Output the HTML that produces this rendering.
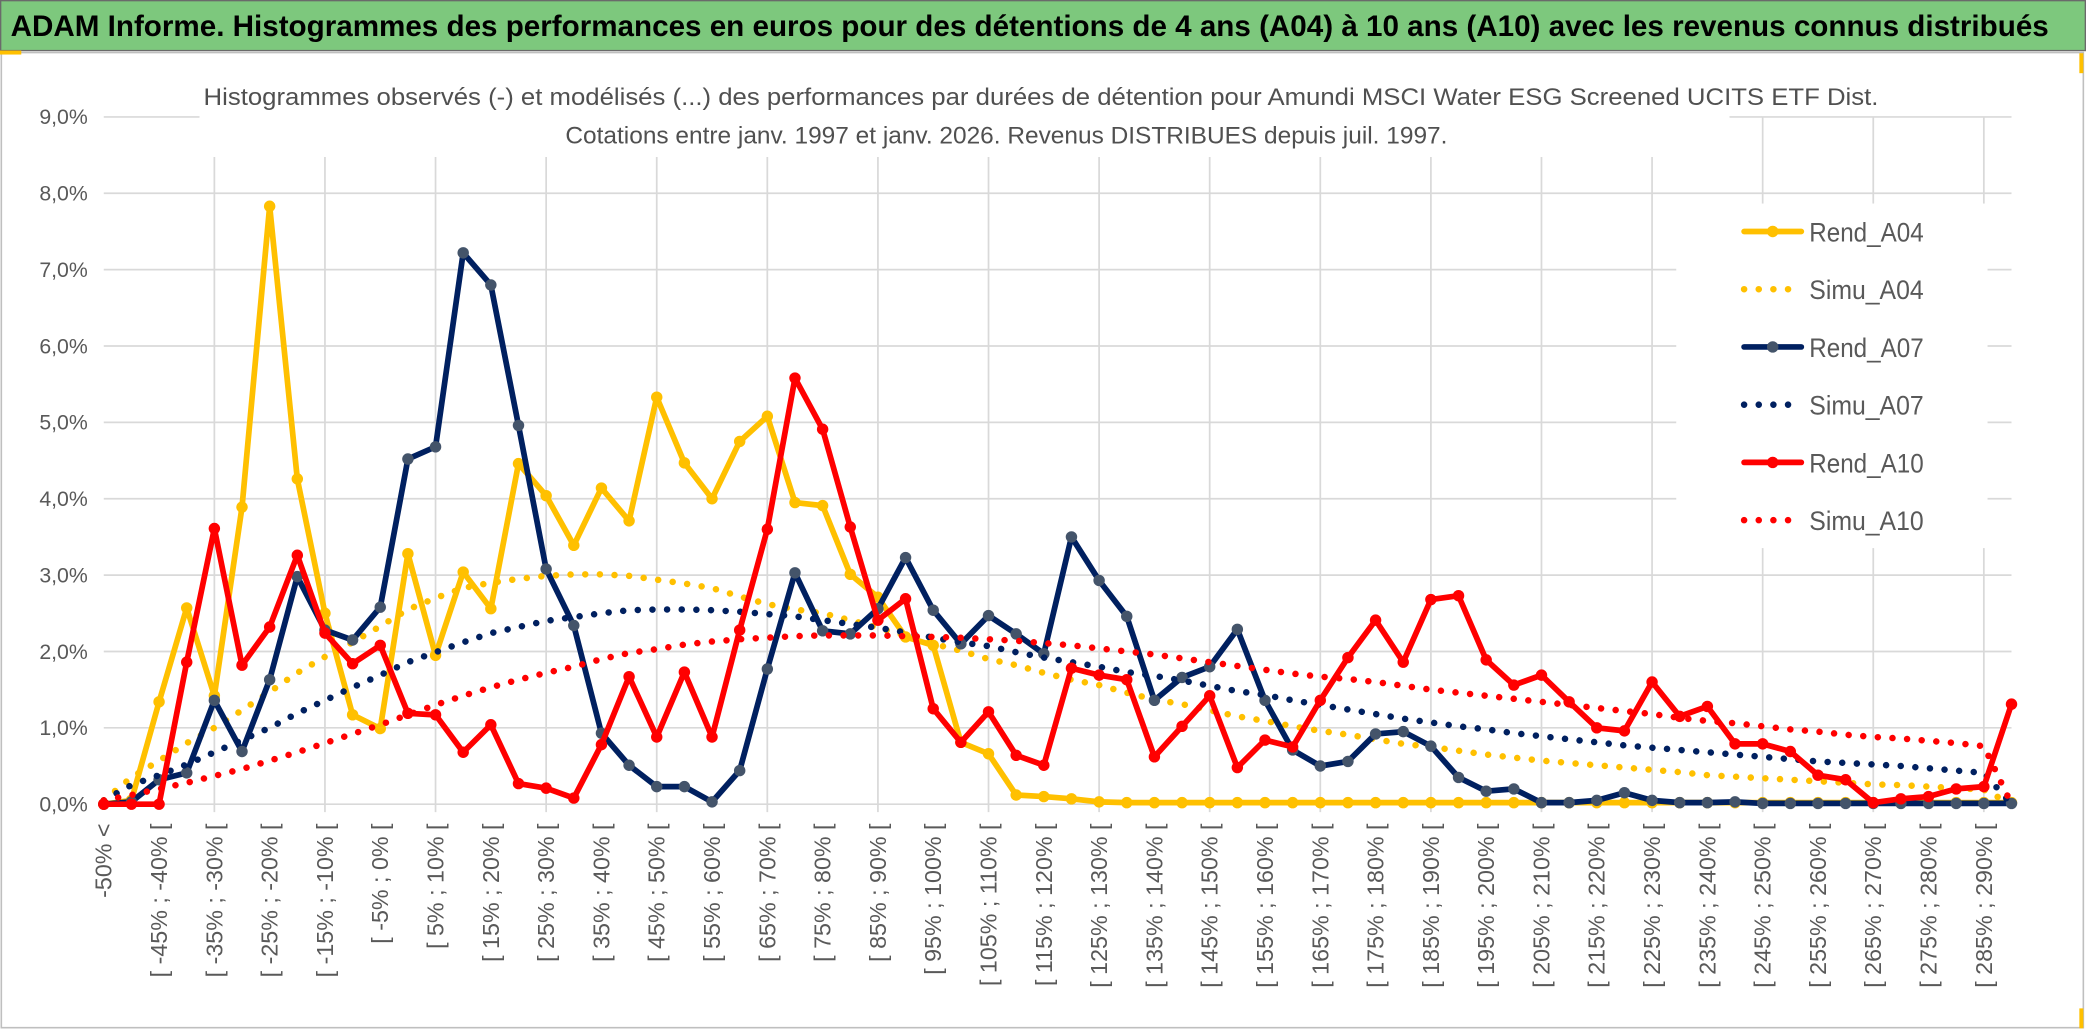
<!DOCTYPE html>
<html><head><meta charset="utf-8">
<style>
html,body{margin:0;padding:0;background:#fff;}
svg{display:block;}
text{font-family:"Liberation Sans",sans-serif;}
</style></head>
<body>
<svg id="chart" xmlns="http://www.w3.org/2000/svg" width="2086" height="1031" viewBox="0 0 1568 775" preserveAspectRatio="none">
  <rect x="0" y="0" width="1568" height="775" fill="#fff"/>
  <rect x="0.5" y="0.5" width="1567" height="37.5" fill="#7DC87D" stroke="#6a6a6a" stroke-width="1"/>
  <text x="8" y="27" font-size="22" font-weight="bold" fill="#000" textLength="1532" lengthAdjust="spacingAndGlyphs">ADAM Informe. Histogrammes des performances en euros pour des détentions de 4 ans (A04) à 10 ans (A10) avec les revenus connus distribués</text>
  <rect x="1" y="39.5" width="1565" height="733" fill="none" stroke="#bfbfbf" stroke-width="1.2"/>
  <rect x="0" y="38" width="16" height="3" fill="#FFC000"/>
  <rect x="1563" y="40" width="3" height="15" fill="#FFC000"/>
  <rect x="1563" y="758" width="3" height="15" fill="#FFC000"/>
  <g id="grid"></g>
  <rect x="150" y="55" width="1150" height="62" fill="#fff"/>
  <text x="153" y="79" font-size="18" fill="#505050" textLength="1259" lengthAdjust="spacingAndGlyphs">Histogrammes observés (-) et modélisés (...) des performances par durées de détention pour Amundi MSCI Water ESG Screened UCITS ETF Dist.</text>
  <text x="425" y="108" font-size="18" fill="#505050" textLength="663" lengthAdjust="spacingAndGlyphs">Cotations entre janv. 1997 et janv. 2026. Revenus DISTRIBUES depuis juil. 1997.</text>
  <g id="yaxis"></g>
  <g id="xaxis"></g>
  <g id="series"></g>
  <g id="legend"></g>
</svg>
<script>
const rendA04 = [0,0.05,1.34,2.57,1.42,3.89,7.83,4.26,2.5,1.17,0.99,3.28,1.95,3.04,2.56,4.46,4.04,3.39,4.14,3.71,5.33,4.47,4.0,4.75,5.08,3.95,3.91,3.01,2.71,2.19,2.08,0.81,0.66,0.12,0.1,0.07,0.03,
0.02,0.02,0.02,0.02,0.02,0.02,0.02,0.02,0.02,0.02,0.02,0.02,0.02,0.02,0.02,0.02,0.02,0.02,0.02,0.02,0.02,0.02,0.02,0.02,0.02,0.02,0.02,0.02,0.02,0.02,0.02,0.02,0.02];
const simuA04 = [0.05,0.35,0.57,0.8,1.0,1.23,1.47,1.72,1.93,2.12,2.33,2.55,2.7,2.83,2.9,2.95,2.99,3.01,3.01,2.99,2.94,2.89,2.83,2.72,2.62,2.55,2.5,2.41,2.31,2.21,2.1,2.01,1.9,1.82,1.72,1.63,1.56,1.46,1.37,1.31,1.23,1.15,1.09,1.02,0.96,0.91,0.85,0.79,0.75,0.7,0.65,0.61,0.57,0.54,0.51,0.48,0.45,0.42,0.38,0.36,0.34,0.32,0.3,0.28,0.26,0.25,0.23,0.21,0.19,0];
const rendA07 = [0,0.03,0.32,0.41,1.36,0.69,1.63,2.98,2.28,2.15,2.58,4.52,4.68,7.22,6.8,4.96,3.08,2.34,0.93,0.51,0.23,0.23,0.03,0.44,1.77,3.03,2.27,2.23,2.56,3.23,2.54,2.1,2.47,2.23,1.97,3.5,2.93,2.46,1.36,1.66,1.8,2.29,1.36,0.71,0.5,0.56,0.92,0.95,0.76,0.35,0.17,0.2,0.02,0.02,0.05,0.15,0.05,0.02,0.02,0.03,0.01,0.01,0.01,0.01,0.01,0.01,0.01,0.01,0.01,0.01];
const simuA07 = [0.05,0.25,0.38,0.52,0.68,0.84,1.0,1.19,1.36,1.53,1.69,1.86,1.99,2.12,2.24,2.32,2.4,2.45,2.5,2.54,2.55,2.55,2.54,2.52,2.49,2.46,2.41,2.36,2.31,2.25,2.18,2.12,2.07,1.99,1.92,1.86,1.8,1.73,1.68,1.62,1.55,1.48,1.43,1.36,1.3,1.24,1.18,1.12,1.07,1.02,0.98,0.93,0.89,0.85,0.81,0.77,0.74,0.71,0.68,0.65,0.62,0.59,0.56,0.54,0.52,0.5,0.47,0.44,0.41,0];
const rendA10 = [0,0,0,1.86,3.61,1.82,2.32,3.26,2.24,1.84,2.08,1.19,1.17,0.68,1.04,0.27,0.21,0.08,0.78,1.67,0.88,1.73,0.88,2.28,3.6,5.58,4.91,3.63,2.41,2.69,1.25,0.81,1.21,0.64,0.51,1.78,1.69,1.63,0.62,1.02,1.42,0.48,0.84,0.75,1.36,1.92,2.41,1.86,2.68,2.73,1.89,1.56,1.69,1.34,1.0,0.96,1.6,1.15,1.28,0.79,0.79,0.69,0.38,0.32,0.02,0.07,0.1,0.2,0.23,1.31];
const simuA10 = [0.05,0.12,0.2,0.28,0.37,0.46,0.57,0.68,0.8,0.92,1.04,1.17,1.3,1.42,1.53,1.63,1.72,1.8,1.9,1.98,2.03,2.09,2.13,2.16,2.18,2.2,2.21,2.21,2.21,2.2,2.19,2.18,2.16,2.14,2.11,2.08,2.04,2.0,1.96,1.91,1.86,1.81,1.76,1.71,1.67,1.64,1.6,1.55,1.5,1.46,1.42,1.38,1.34,1.3,1.26,1.22,1.18,1.13,1.09,1.06,1.02,0.98,0.95,0.91,0.88,0.86,0.83,0.8,0.76,0];
const yTicks = [0,1,2,3,4,5,6,7,8,9];
const yTickLabels = ["0,0%","1,0%","2,0%","3,0%","4,0%","5,0%","6,0%","7,0%","8,0%","9,0%"];
const seriesNames = ["Rend_A04","Simu_A04","Rend_A07","Simu_A07","Rend_A10","Simu_A10"];

function catLabel(k){
  if(k===0) return "-50% <";
  const lo=-50+5*(k-1), hi=lo+5;
  return "[ "+lo+"% ; "+hi+"% [";
}
const categories = [];
for(let k=0;k<70;k++) categories.push(catLabel(k));

const NS="http://www.w3.org/2000/svg";
const X0=78, X1=1512, Y0=604.5, PER=57.4;
function xPos(i){ return X0 + i*(X1-X0)/(categories.length-1); }
function yPos(v){ return Y0 - v*PER; }
function mk(tag, attrs, parent){
  const e=document.createElementNS(NS,tag);
  for(const a in attrs) e.setAttribute(a, attrs[a]);
  parent.appendChild(e); return e;
}

const grid=document.getElementById('grid');
yTicks.forEach(function(t){
  const y=yPos(t);
  if(t===9){
    const g1=mk('line',{x1:X0,x2:150,y1:y,y2:y,stroke:'#d9d9d9','stroke-width':1.3},grid);
    
    
    const g2=mk('line',{x1:1300,x2:X1,y1:y,y2:y,stroke:'#d9d9d9','stroke-width':1.3},grid);
    
    
  } else {
    const g=mk('line',{x1:X0,x2:X1,y1:y,y2:y,stroke:'#d9d9d9','stroke-width':1.3},grid);
    
    
  }
});
for(let k=4;k<categories.length;k+=4){
  const x=xPos(k);
  const top = x>1300 ? yPos(9) : 118;
  const g=mk('line',{x1:x,x2:x,y1:top,y2:Y0+6,stroke:'#d9d9d9','stroke-width':1.3},grid);
  
  
}

const yax=document.getElementById('yaxis');
yTicks.forEach(function(t,i){
  const tx=mk('text',{x:66,y:yPos(t)+5.5,'font-size':16,fill:'#595959','text-anchor':'end'},yax);
  tx.textContent=yTickLabels[i];
  
  
});

const xax=document.getElementById('xaxis');
categories.forEach(function(c,k){
  if(k%2!==0) return;
  const x=xPos(k)+6, y=619;
  const tx=mk('text',{x:x,y:y,'font-size':17.5,fill:'#595959','text-anchor':'end',transform:'rotate(-90 '+x+' '+y+')'},xax);
  tx.textContent=c;
  
  
});

const ser=document.getElementById('series');
function pathD(vals){ return vals.map(function(v,i){return (i?'L':'M')+xPos(i).toFixed(2)+' '+yPos(v).toFixed(2);}).join(' '); }
function solid(vals,color,mcolor,name){
  const g=mk('g',{},ser);
  
  
  const p=mk('path',{d:pathD(vals),fill:'none',stroke:color,'stroke-width':4.3,'stroke-linejoin':'round','stroke-linecap':'round'},g);
  
  
  vals.forEach(function(v,i){
    const c=mk('circle',{cx:xPos(i),cy:yPos(v),r:4.3,fill:mcolor},g);
    
    
  });
}
function dotted(vals,color,name){
  const p=mk('path',{d:pathD(vals),fill:'none',stroke:color,'stroke-width':4.9,'stroke-linecap':'round','stroke-linejoin':'round','stroke-dasharray':'0.01 11'},ser);
  
  
}
solid(rendA04,'#FFC000','#FFC000','rend-a04');
dotted(simuA04,'#FFC000','simu-a04');
solid(rendA07,'#002060','#44546A','rend-a07');
dotted(simuA07,'#002060','simu-a07');
solid(rendA10,'#FF0000','#FF0000','rend-a10');
dotted(simuA10,'#FF0000','simu-a10');

const lg=document.getElementById('legend');
const lbg=mk('rect',{x:1260,y:153,width:234,height:259,fill:'#fff'},lg);


const legColors=['#FFC000','#FFC000','#002060','#002060','#FF0000','#FF0000'];
const legMarker=['#FFC000',null,'#44546A',null,'#FF0000',null];
seriesNames.forEach(function(n,i){
  const y=174+i*43.4;
  const g=mk('g',{},lg);
  
  
  if(legMarker[i]){
    mk('line',{x1:1311,x2:1354,y1:y,y2:y,stroke:legColors[i],'stroke-width':4.3,'stroke-linecap':'round'},g);
    mk('circle',{cx:1332.5,cy:y,r:4.3,fill:legMarker[i]},g);
  } else {
    mk('line',{x1:1311,x2:1345,y1:y,y2:y,stroke:legColors[i],'stroke-width':4.9,'stroke-linecap':'round','stroke-dasharray':'0.01 11'},g);
  }
  const t=mk('text',{x:1360,y:y+7.5,'font-size':20,fill:'#595959',textLength:86,lengthAdjust:'spacingAndGlyphs'},g);
  t.textContent=n;
  
  
});
</script>
</body></html>
